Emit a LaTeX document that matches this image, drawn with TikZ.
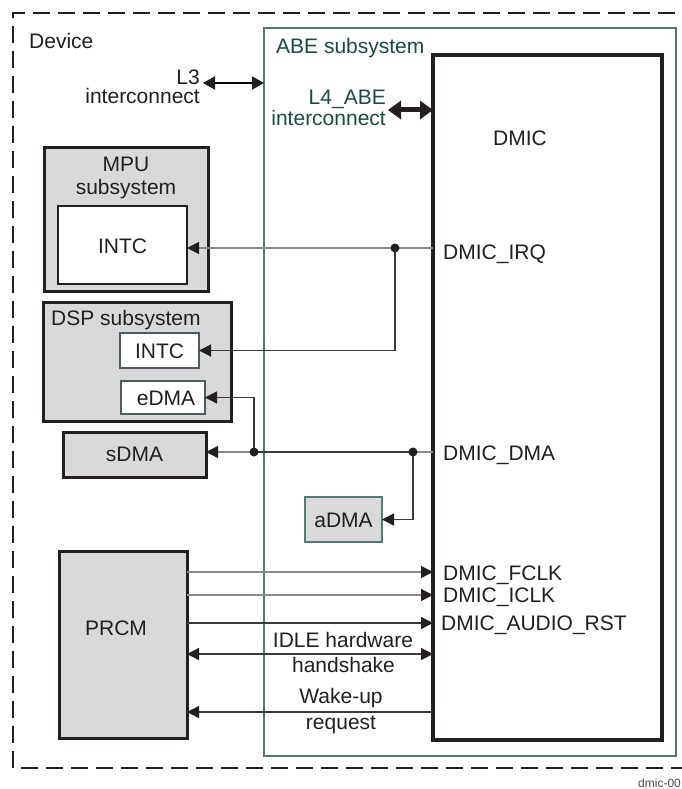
\documentclass[tikz,border=0pt]{standalone}
\usepackage{fontspec}
\setmainfont{Liberation Sans}
\usetikzlibrary{arrows.meta,calc}
\definecolor{boxgray}{HTML}{D9D9D9}
\definecolor{abeteal}{HTML}{527878}
\definecolor{abetext}{HTML}{1D4A42}
\definecolor{slateb}{HTML}{4D5B63}
\definecolor{lightline}{HTML}{8A8A8A}
\definecolor{darkline}{HTML}{3A3A3A}
\definecolor{inkblack}{HTML}{231F20}
\tikzset{
  bx/.style={draw, inner sep=0pt, outer sep=0pt},
  gbox/.style={bx, fill=boxgray, draw=inkblack, line width=3pt},
  wbox/.style={bx, fill=white, draw=inkblack, line width=2.3pt},
  sbox/.style={bx, fill=white, draw=slateb, line width=2pt},
  lbl/.style={inner sep=0pt, text height=15pt, text depth=0pt, text=inkblack},
  tip/.style={-{Triangle[length=12pt,width=12pt,color=inkblack]}},
  dtip/.style={{Triangle[length=12pt,width=12pt,color=inkblack]}-{Triangle[length=12pt,width=12pt,color=inkblack]}},
  wire/.style={line width=1.3pt},
  jdot/.style={circle, fill=inkblack, inner sep=0pt, minimum size=9pt}
}
\begin{document}
\begin{tikzpicture}[x=1pt,y=-1pt,font=\fontsize{21}{23}\selectfont]
\useasboundingbox (0,0) rectangle (682,789);
\fill[white] (0,0) rectangle (682,789);

% Device dashed frame
\draw[inkblack, line width=2.8pt, dash pattern=on 17pt off 8pt] (700,13) -- (13,13) -- (13,768) -- (700,768);
\node[lbl, anchor=west] (device) at (29,41) {Device};

% ABE subsystem
\node[bx, draw=abeteal, line width=2pt, minimum width=412pt, minimum height=728pt] (abe) at (470,392) {};
\node[lbl, anchor=west, text=abetext] (abelbl) at (276,46) {ABE subsystem};

% DMIC
\node[bx, draw=inkblack, line width=3.5pt, fill=white, minimum width=229pt, minimum height=685pt] (dmic) at (547.5,397.5) {};
\node[lbl] (dmiclbl) at (520,138) {DMIC};

% L3 interconnect
\node[inner sep=0pt, align=right, anchor=east, text=inkblack, font=\fontsize{21}{19}\selectfont] (l3) at (200,87) {L3\\interconnect};
\coordinate (l3y) at (0,83);
\draw[line width=2pt, {Triangle[length=12pt,width=13pt,color=inkblack]}-{Triangle[length=12pt,width=13pt,color=inkblack]}] (l3.east |- l3y) ++(3pt,0) -- (abe.west |- l3y);

% L4_ABE interconnect
\node[inner sep=0pt, align=right, anchor=east, text=abetext, font=\fontsize{21}{21}\selectfont] (l4) at (386,108) {L4\_ABE\\interconnect};
\coordinate (l4y) at (0,110);
\draw[line width=5pt, {Triangle[length=13pt,width=18pt,color=inkblack]}-{Triangle[length=13pt,width=18pt,color=inkblack]}, draw=inkblack] (388,110) -- (dmic.west |- l4y);

% MPU subsystem
\node[gbox, minimum width=164pt, minimum height=144pt] (mpu) at (126,219) {};
\node[inner sep=0pt, align=center, text=inkblack] (mpulbl) at (126,178) {MPU\\subsystem};
\node[wbox, minimum width=129pt, minimum height=78pt] (mpuintc) at (122.5,245) {};
\node[lbl] (mpuintclbl) at (122.5,246) {INTC};

% DSP subsystem
\node[gbox, minimum width=188pt, minimum height=119pt] (dsp) at (137,361.5) {};
\node[lbl, anchor=west] (dsplbl) at (51,318) {DSP subsystem};
\node[sbox, minimum width=79pt, minimum height=35pt] (dspintc) at (159.5,350.5) {};
\node[lbl] (dspintclbl) at (159.5,350.5) {INTC};
\node[sbox, minimum width=84pt, minimum height=33pt] (edma) at (163,397.5) {};
\node[lbl] (edmalbl) at (166,397.5) {eDMA};

% sDMA
\node[gbox, minimum width=143pt, minimum height=45pt] (sdma) at (134.5,454.5) {};
\node[lbl] (sdmalbl) at (134.5,454) {sDMA};

% aDMA
\node[bx, fill=boxgray, draw=abeteal, line width=2pt, minimum width=77pt, minimum height=45pt] (adma) at (343.5,519.5) {};
\node[lbl] (admalbl) at (343.5,519.5) {aDMA};

% PRCM
\node[gbox, minimum width=128pt, minimum height=187pt] (prcm) at (123,644.5) {};
\node[lbl] (prcmlbl) at (116,628) {PRCM};

% DMIC signal labels
\node[lbl, anchor=west] (irqlbl) at (443,252) {DMIC\_IRQ};
\node[lbl, anchor=west] (dmalbl) at (443,453) {DMIC\_DMA};
\node[lbl, anchor=west] (fclklbl) at (443,573) {DMIC\_FCLK};
\node[lbl, anchor=west] (iclklbl) at (443,595) {DMIC\_ICLK};
\node[lbl, anchor=west] (rstlbl) at (441,623) {DMIC\_AUDIO\_RST};

% IRQ wiring
\coordinate (irqdot) at (395,248);
\draw[wire, draw=lightline, tip] (dmic.west |- irqdot) -- (irqdot) -- (mpuintc.east |- irqdot);
\draw[wire, draw=darkline, tip] (irqdot) |- (dspintc.east);
\node[jdot] (irqj) at (irqdot) {};

% DMA wiring
\coordinate (dmadota) at (413,452);
\coordinate (dmadotb) at (254,452);
\draw[wire, draw=lightline] (dmic.west |- dmadota) -- (dmadota);
\draw[wire, draw=darkline] (dmadota) -- (dmadotb);
\draw[wire, draw=lightline, tip] (dmadotb) -- (sdma.east |- dmadotb);
\draw[wire, draw=darkline, tip] (dmadotb) |- (edma.east);
\draw[wire, draw=darkline, tip] (dmadota) |- (adma.east);
\node[jdot] (dmaja) at (dmadota) {};
\node[jdot] (dmajb) at (dmadotb) {};

% PRCM wiring
\coordinate (yfclk) at (0,572);
\coordinate (yiclk) at (0,595);
\coordinate (yrst) at (0,623);
\coordinate (yidle) at (0,654);
\coordinate (ywake) at (0,712);
\draw[wire, draw=lightline, tip] (prcm.east |- yfclk) -- (dmic.west |- yfclk);
\draw[wire, draw=lightline, tip] (prcm.east |- yiclk) -- (dmic.west |- yiclk);
\draw[wire, draw=darkline, tip] (prcm.east |- yrst) -- (dmic.west |- yrst);
\draw[wire, draw=darkline, dtip] (prcm.east |- yidle) -- (dmic.west |- yidle);
\draw[wire, draw=darkline, tip] (dmic.west |- ywake) -- (prcm.east |- ywake);

\node[lbl] (idlelbla) at (343,640) {IDLE hardware};
\node[lbl] (idlelblb) at (343.5,665) {handshake};
\node[lbl] (wakelbla) at (341,696) {Wake-up};
\node[lbl] (wakelblb) at (341,722) {request};

% figure id
\node[inner sep=0pt, anchor=base west, text=black!70, font=\fontsize{12}{14}\selectfont] (figid) at (638,787) {dmic-00};
\end{tikzpicture}
\end{document}
